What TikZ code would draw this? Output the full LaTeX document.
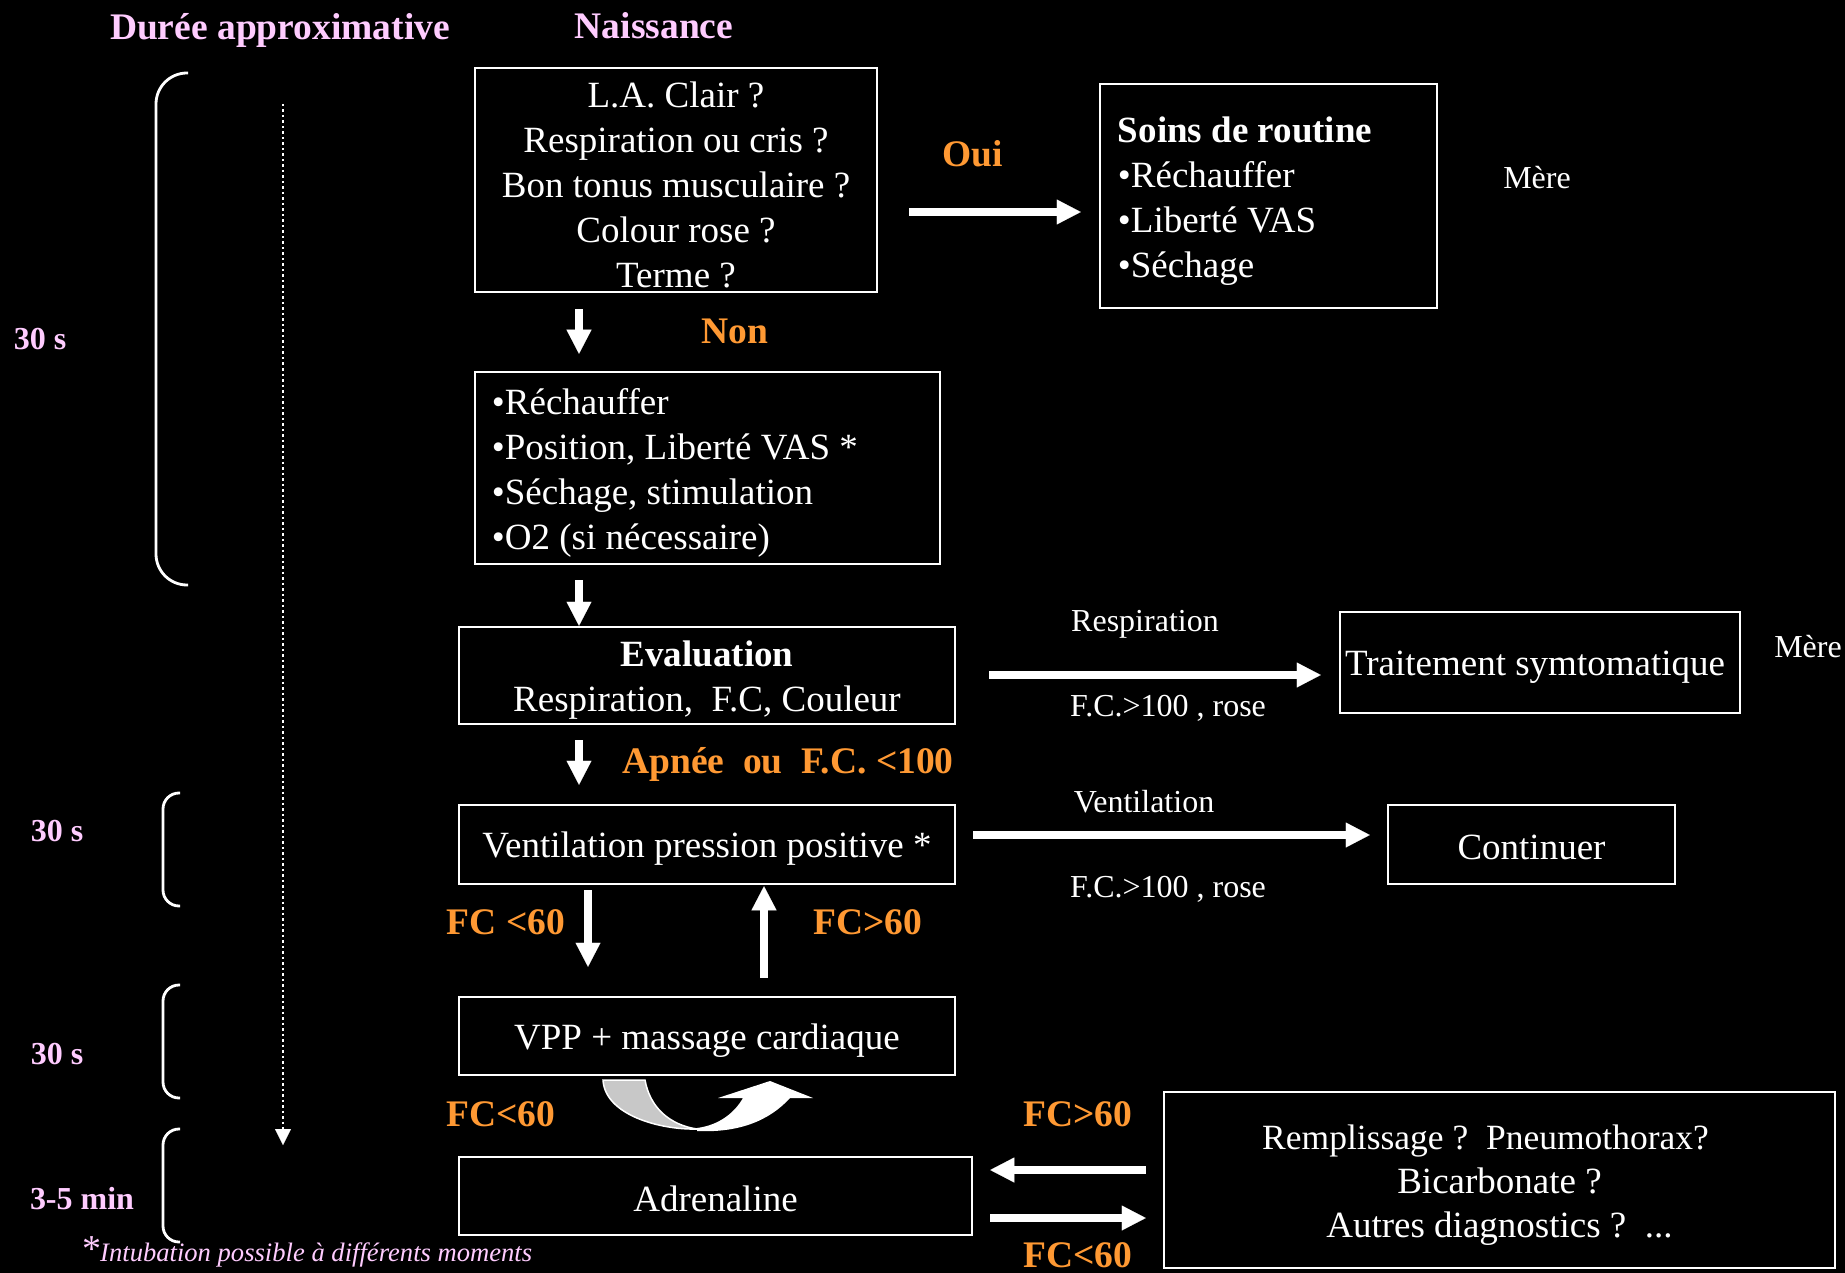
\documentclass[tikz,border=0pt]{standalone}
\usepackage{fontspec}
\setmainfont{Liberation Serif}
\usetikzlibrary{arrows.meta}
\definecolor{pk}{RGB}{255,204,255}
\definecolor{og}{RGB}{255,153,51}
\definecolor{gr}{RGB}{200,200,200}
\begin{document}
\begin{tikzpicture}[x=1pt,y=-1pt,
 frame/.style={draw=white, line width=2.5pt, inner sep=0pt},
 btxt/.style={text=white, inner sep=0pt, align=center, font=\fontsize{37}{45}\selectfont},
 ltxt/.style={btxt, align=flush left, anchor=west},
 org/.style={text=og, font=\fontsize{37.5}{43}\selectfont\bfseries, inner sep=0pt},
 pinklab/.style={text=pk, font=\fontsize{32}{37}\selectfont\bfseries, inner sep=0pt},
 headlab/.style={text=pk, font=\fontsize{37.5}{43}\selectfont\bfseries, inner sep=0pt},
 small/.style={text=white, font=\fontsize{32}{37}\selectfont, inner sep=0pt},
 bigarrow/.style={draw=white, line width=8.5pt, -{Triangle[length=24pt,width=25pt,line width=0.1pt]}},
 dotarrow/.style={draw=white, line width=2.5pt, dash pattern=on 2.5pt off 3pt, -{Triangle[length=16pt,width=16pt,line width=0.1pt]}},
 bracket/.style={draw=white, line width=2.8pt},
]
\fill[black] (0,0) rectangle (1845,1273);
\useasboundingbox (0,0) rectangle (1845,1273);

% headers
\node[headlab] (hdur) at (280,30) {Durée approximative};
\node[headlab] (hnai) at (654,26) {Naissance};

% box frames
\node[frame, minimum width=402pt, minimum height=224pt] (q) at (676,180) {};
\node[frame, minimum width=337pt, minimum height=224pt] (soins) at (1268.5,196) {};
\node[frame, minimum width=465pt, minimum height=192pt] (rech) at (707.5,468) {};
\node[frame, minimum width=496pt, minimum height=97pt] (eval) at (707,675.5) {};
\node[frame, minimum width=400pt, minimum height=101pt] (trait) at (1540,662.5) {};
\node[frame, minimum width=496pt, minimum height=79pt] (vpp) at (707,844.5) {};
\node[frame, minimum width=287pt, minimum height=79pt] (cont) at (1531.5,844.5) {};
\node[frame, minimum width=496pt, minimum height=78pt] (mass) at (707,1036) {};
\node[frame, minimum width=513pt, minimum height=78pt] (adr) at (715.5,1196) {};
\node[frame, minimum width=671pt, minimum height=176pt] (rem) at (1499.5,1180) {};

% box texts
\node[btxt] (qT) at ([yshift=-5pt]q.center)
 {L.A. Clair ?\\Respiration ou cris ?\\Bon tonus musculaire ?\\Colour rose ?\\Terme ?};
\node[ltxt] (soinsT) at ([xshift=19pt,yshift=-5pt]soins.west)
 {\textbf{Soins de routine}\\•Réchauffer\\•Liberté VAS\\•Séchage};
\node[ltxt] (rechT) at ([xshift=18pt,yshift=-5pt]rech.west)
 {•Réchauffer\\•Position, Liberté VAS *\\•Séchage, stimulation\\•O2 (si nécessaire)};
\node[btxt] (evalT) at ([yshift=-5pt]eval.center)
 {\textbf{Evaluation}\\Respiration,~~F.C, Couleur};
\node[btxt] (traitT) at ([xshift=-5pt,yshift=-5pt]trait.center) {Traitement symtomatique};
\node[btxt] (vppT) at ([yshift=-4pt]vpp.center) {Ventilation pression positive *};
\node[btxt] (contT) at ([yshift=-3pt]cont.center) {Continuer};
\node[btxt] (massT) at ([yshift=-5pt]mass.center) {VPP + massage cardiaque};
\node[btxt] (adrT) at ([yshift=-3pt]adr.center) {Adrenaline};
\node[btxt, font=\fontsize{37}{44}\selectfont] (remT) at ([yshift=-5pt]rem.center)
 {{\fontsize{35.5}{44}\selectfont Remplissage ?~~Pneumothorax?\hspace*{28pt}}\\Bicarbonate ?\\Autres diagnostics ?~~...};

% orange labels
\node[org] (oui) at (973,154) {Oui};
\node[org] (non) at (735,331) {Non};
\node[org] (apn) at (788,764) {Apnée~~ou~~F.C. <100};
\node[org] (fc1) at (506,922) {FC <60};
\node[org] (fc2) at (868,922) {FC>60};
\node[org] (fc3) at (501,1114) {FC<60};
\node[org] (fc4) at (1078,1114) {FC>60};
\node[org] (fc5) at (1078,1255) {FC<60};

% small white labels
\node[small] (mere1) at (1537,178) {Mère};
\node[small] (resp) at (1145,624) {Respiration};
\node[small] (fcr1) at (1168,708) {F.C.>100 , rose};
\node[small] (mere2) at (1808,647) {Mère};
\node[small] (vent) at (1144,802) {Ventilation};
\node[small] (fcr2) at (1168,889) {F.C.>100 , rose};

% left labels
\node[pinklab] (t1) at (40,339) {30 s};
\node[pinklab] (t2) at (57,831) {30 s};
\node[pinklab] (t3) at (57,1054) {30 s};
\node[pinklab] (t4) at (82,1199) {3-5 min};

% footnote
\node[text=pk, font=\fontsize{38}{40}\selectfont, anchor=base, inner sep=0pt] (ast) at (92,1261) {*};
\node[text=pk, font=\fontsize{26.6}{30}\selectfont\itshape, anchor=base west, inner sep=0pt] (fn) at (100,1261) {Intubation possible à différents moments};

% brackets
\draw[bracket, rounded corners=31pt] (188,73) -- (156,73) -- (156,585) -- (188,585);
\draw[bracket, rounded corners=16pt] (180,793) -- (163,793) -- (163,906) -- (180,906);
\draw[bracket, rounded corners=16pt] (180,985) -- (163,985) -- (163,1098) -- (180,1098);
\draw[bracket, rounded corners=16pt] (180,1129) -- (163,1129) -- (163,1242) -- (180,1242);

% timeline
\coordinate (tl1) at (283,104);
\coordinate (tl2) at (283,1145);
\draw[dotarrow] (tl1) -- (tl2);

% arrows
\draw[bigarrow, shorten <=31pt, shorten >=18pt] ([yshift=-32pt]q.east) -- ([yshift=-16pt]soins.west);
\draw[bigarrow, shorten <=16pt, shorten >=17pt] ([xshift=-97pt]q.south) -- ([xshift=-128.5pt]rech.north);
\draw[bigarrow, shorten <=15pt, shorten >=0pt] ([xshift=-128.5pt]rech.south) -- ([xshift=-128pt]eval.north);
\draw[bigarrow, shorten <=15pt, shorten >=19pt] ([xshift=-128pt]eval.south) -- ([xshift=-128pt]vpp.north);
\draw[bigarrow, shorten <=33pt, shorten >=18pt] ([yshift=0.5pt]eval.east) -- ([yshift=-12.5pt]trait.west);
\draw[bigarrow, shorten <=17pt, shorten >=17pt] ([yshift=9.5pt]vpp.east) -- ([yshift=9.5pt]cont.west);
\draw[bigarrow, shorten <=5pt, shorten >=29pt] ([xshift=-119pt]vpp.south) -- ([xshift=-119pt]mass.north);
\draw[bigarrow, shorten <=18pt, shorten >=1pt] ([xshift=57pt]mass.north) -- ([xshift=57pt]vpp.south);
\draw[bigarrow, shorten <=17pt, shorten >=17pt] ([yshift=10pt]rem.west) -- ([yshift=26pt]adr.east);
\draw[bigarrow, shorten <=17pt, shorten >=17pt] ([yshift=-22pt]adr.east) -- ([yshift=-38pt]rem.west);

% curved U-turn arrow
\filldraw[fill=gr, draw=white, line width=1.5pt]
 (603,1080) -- (645,1080) .. controls (650,1108) and (670,1125) .. (697,1129)
 .. controls (660,1130) and (605,1115) .. (603,1080) -- cycle;
\fill[white]
 (697,1128) .. controls (720,1125) and (735,1112) .. (743,1098) -- (718,1098) -- (770,1081)
 -- (813,1098) -- (790,1098) .. controls (770,1120) and (740,1133) .. (697,1131) -- cycle;
\end{tikzpicture}
\end{document}
